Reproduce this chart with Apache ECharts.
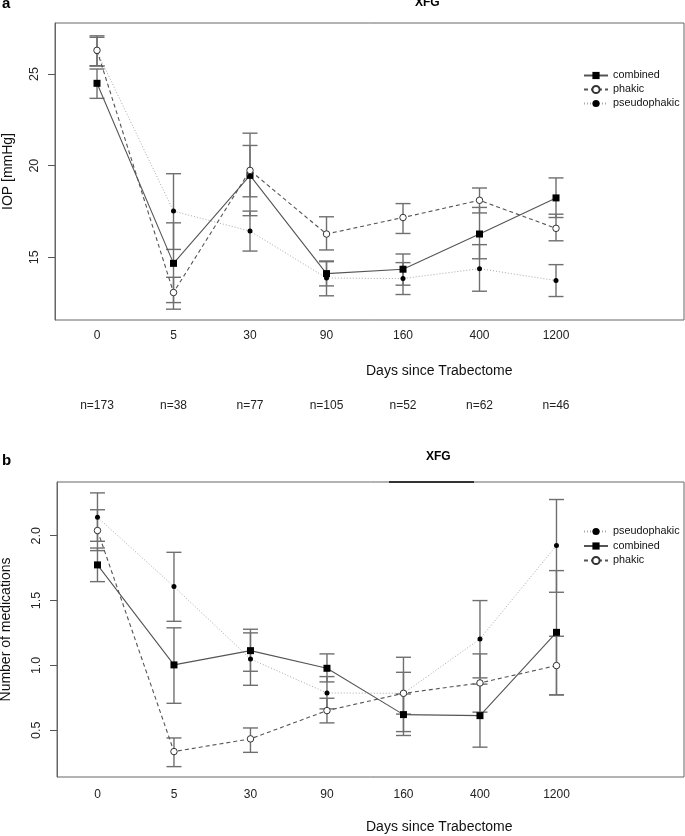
<!DOCTYPE html>
<html>
<head>
<meta charset="utf-8">
<script src="https://cdn.jsdelivr.net/npm/echarts@6/dist/echarts.min.js"></script>
<style>html,body{margin:0;padding:0;background:#fff}#c{width:685px;height:836px}</style>
</head>
<body>
<div id="c"></div>
<script>
// ---- data ----
const categories = ['0', '5', '30', '90', '160', '400', '1200'];
const nLabels = ['n=173', 'n=38', 'n=77', 'n=105', 'n=52', 'n=62', 'n=46'];
const iopTicks = [15, 20, 25];
const medTicks = [0.5, 1.0, 1.5, 2.0];

// Panel a: IOP [mmHg]
const iopCombined   = [24.49, 14.67, 19.47, 14.11, 14.35, 16.27, 18.24];
const iopCombinedLo = [23.67, 12.53, 17.27, 13.44, 13.48, 14.92, 17.17];
const iopCombinedHi = [25.27, 16.88, 21.77, 14.76, 15.18, 17.72, 19.33];
const iopPhakic     = [26.29, 13.08, 19.74, 16.27, 17.17, 18.11, 16.58];
const iopPhakicLo   = [25.43, 12.17, 18.30, 15.40, 16.30, 17.42, 15.90];
const iopPhakicHi   = [27.08, 13.91, 21.10, 17.21, 17.93, 18.78, 17.35];
const iopPseudo     = [26.22, 17.52, 16.43, 13.87, 13.84, 14.38, 13.73];
const iopPseudoLo   = [25.45, 15.43, 15.34, 12.90, 12.97, 13.15, 12.86];
const iopPseudoHi   = [27.00, 19.56, 17.52, 14.80, 14.71, 15.69, 14.60];

// Panel b: number of medications
const medCombined   = [1.775, 1.004, 1.114, 0.978, 0.621, 0.613, 1.255];
const medCombinedLo = [1.646, 0.708, 0.955, 0.873, 0.460, 0.370, 0.773];
const medCombinedHi = [1.905, 1.290, 1.279, 1.089, 0.780, 0.856, 1.731];
const medPhakic     = [2.040, 0.336, 0.434, 0.652, 0.785, 0.865, 0.999];
const medPhakicLo   = [1.885, 0.220, 0.330, 0.557, 0.625, 0.640, 0.773];
const medPhakicHi   = [2.200, 0.441, 0.518, 0.747, 0.947, 1.089, 1.225];
const medPseudo     = [2.142, 1.608, 1.050, 0.788, 0.785, 1.204, 1.925];
const medPseudoLo   = [1.957, 1.340, 0.847, 0.665, 0.490, 0.904, 1.564];
const medPseudoHi   = [2.330, 1.872, 1.251, 0.914, 1.063, 1.500, 2.279];

// ---- chart ----
const FONT = 'Liberation Sans, Arial, Helvetica, sans-serif';
const idx = categories.map((c, i) => i);
const pts = vals => vals.map((v, i) => [i, v]);
const bars = (lo, hi) => lo.map((l, i) => [i, l, hi[i]]);

function errRender(params, api) {
  const i = api.value(0);
  const top = api.coord([i, api.value(2)]);
  const bot = api.coord([i, api.value(1)]);
  const w = 7.5;
  const st = { stroke: '#6f6f6f', lineWidth: 1.4 };
  return {
    type: 'group',
    children: [
      { type: 'line', shape: { x1: top[0], y1: top[1], x2: bot[0], y2: bot[1] }, style: st },
      { type: 'line', shape: { x1: top[0] - w, y1: top[1], x2: top[0] + w, y2: top[1] }, style: st },
      { type: 'line', shape: { x1: bot[0] - w, y1: bot[1], x2: bot[0] + w, y2: bot[1] }, style: st }
    ]
  };
}

const styles = {
  combined: { symbol: 'rect', symbolSize: 7, itemStyle: { color: '#000' },
              lineStyle: { color: '#555', width: 1.1, type: 'solid' }, z: 4 },
  phakic: { symbol: 'circle', symbolSize: 6.5,
            itemStyle: { color: '#fff', borderColor: '#333', borderWidth: 1 },
            lineStyle: { color: '#555', width: 1.1, type: [4, 3] }, z: 5 },
  pseudophakic: { symbol: 'circle', symbolSize: 5, itemStyle: { color: '#000' },
                  lineStyle: { color: '#a8a8a8', width: 1, type: [1, 2] }, z: 3 }
};

function lineSeries(name, vals, g) {
  const s = styles[name];
  return Object.assign({
    type: 'line', name: name, xAxisIndex: g === 0 ? 0 : 2, yAxisIndex: g,
    data: pts(vals), showSymbol: true, animation: false, silent: true,
    emphasis: { disabled: true }
  }, s);
}
function errSeries(lo, hi, g) {
  return {
    type: 'custom', name: 'err', xAxisIndex: g === 0 ? 0 : 2, yAxisIndex: g,
    data: bars(lo, hi), renderItem: errRender, encode: { x: 0, y: [1, 2] },
    z: 1, animation: false, silent: true
  };
}

const xBase = (min, max, margin, gi) => ({
  type: 'value', gridIndex: gi, min: min, max: max,
  axisLine: { show: false, onZero: false }, axisTick: { show: false }, splitLine: { show: false },
  axisLabel: {
    customValues: idx, margin: margin, fontSize: 12, color: '#222', fontFamily: FONT,
    formatter: v => categories[Math.round(v)] || ''
  }
});

const option = {
  backgroundColor: '#fff',
  animation: false,
  textStyle: { fontFamily: FONT },
  title: [
    { text: 'a', left: 2, top: -4, padding: 0, textStyle: { fontSize: 15, fontWeight: 'bold', color: '#000', fontFamily: FONT } },
    { text: 'XFG', left: 415, top: -3, padding: 0, textStyle: { fontSize: 12, fontWeight: 'bold', color: '#000', fontFamily: FONT } },
    { text: 'Days since Trabectome', left: 366, top: 364, padding: 0, textStyle: { fontSize: 14, fontWeight: 'normal', color: '#111', fontFamily: FONT } },
    { text: 'b', left: 2, top: 453, padding: 0, textStyle: { fontSize: 15, fontWeight: 'bold', color: '#000', fontFamily: FONT } },
    { text: 'XFG', left: 426, top: 451, padding: 0, textStyle: { fontSize: 12, fontWeight: 'bold', color: '#000', fontFamily: FONT } },
    { text: 'Days since Trabectome', left: 366, top: 820, padding: 0, textStyle: { fontSize: 14, fontWeight: 'normal', color: '#111', fontFamily: FONT } }
  ],
  legend: [
    { orient: 'vertical', left: 583, top: 70, padding: 0, itemWidth: 24, itemHeight: 9, itemGap: 3,
      data: ['combined', 'phakic', 'pseudophakic'], selectedMode: false,
      textStyle: { fontSize: 10.8, color: '#111', fontFamily: FONT } },
    { orient: 'vertical', left: 583, top: 526, padding: 0, itemWidth: 24, itemHeight: 9, itemGap: 3.5,
      data: ['pseudophakic', 'combined', 'phakic'], selectedMode: false,
      textStyle: { fontSize: 10.8, color: '#111', fontFamily: FONT } }
  ],
  grid: [
    { left: 55, top: 23, width: 629, height: 297, show: true, borderColor: '#666', borderWidth: 1,
      backgroundColor: 'transparent', containLabel: false, outerBoundsMode: 'none' },
    { left: 57, top: 482, width: 627, height: 295, show: true, borderColor: '#666', borderWidth: 1,
      backgroundColor: 'transparent', containLabel: false, outerBoundsMode: 'none' }
  ],
  xAxis: [
    xBase(-0.549, 7.673, 10, 0),
    {
      type: 'value', gridIndex: 0, min: -0.549, max: 7.673, position: 'bottom', offset: 70,
      axisLine: { show: false, onZero: false }, axisTick: { show: false }, splitLine: { show: false },
      axisLabel: { customValues: idx, margin: 10, fontSize: 12, color: '#222', fontFamily: FONT,
                   formatter: v => nLabels[Math.round(v)] || '' }
    },
    xBase(-0.529, 7.667, 12, 1)
  ],
  yAxis: [
    {
      type: 'value', gridIndex: 0, min: 11.58, max: 27.78,
      name: 'IOP [mmHg]', nameLocation: 'middle', nameGap: 40, nameRotate: 90,
      nameTextStyle: { fontSize: 14, color: '#111', fontFamily: FONT },
      axisLine: { show: true, onZero: false, lineStyle: { color: '#666' } },
      axisTick: { show: true, length: 7, customValues: iopTicks, lineStyle: { color: '#555' } },
      splitLine: { show: false },
      axisLabel: { customValues: iopTicks, rotate: 90, margin: 14, fontSize: 12.5, color: '#222', fontFamily: FONT }
    },
    {
      type: 'value', gridIndex: 1, min: 0.14, max: 2.414,
      name: 'Number of medications', nameLocation: 'middle', nameGap: 44, nameRotate: 90,
      nameTextStyle: { fontSize: 14, color: '#111', fontFamily: FONT },
      axisLine: { show: true, onZero: false, lineStyle: { color: '#666' } },
      axisTick: { show: true, length: 7, customValues: medTicks, lineStyle: { color: '#555' } },
      splitLine: { show: false },
      axisLabel: { customValues: medTicks, rotate: 90, margin: 14, fontSize: 12.5, color: '#222', fontFamily: FONT,
                   formatter: v => Number(v).toFixed(1) }
    }
  ],
  graphic: [
    { type: 'line', shape: { x1: 389, y1: 482, x2: 474, y2: 482 }, style: { stroke: '#333', lineWidth: 2 }, silent: true }
  ],
  series: [
    errSeries(iopPseudoLo, iopPseudoHi, 0),
    errSeries(iopCombinedLo, iopCombinedHi, 0),
    errSeries(iopPhakicLo, iopPhakicHi, 0),
    lineSeries('pseudophakic', iopPseudo, 0),
    lineSeries('combined', iopCombined, 0),
    lineSeries('phakic', iopPhakic, 0),
    errSeries(medPseudoLo, medPseudoHi, 1),
    errSeries(medCombinedLo, medCombinedHi, 1),
    errSeries(medPhakicLo, medPhakicHi, 1),
    lineSeries('pseudophakic', medPseudo, 1),
    lineSeries('combined', medCombined, 1),
    lineSeries('phakic', medPhakic, 1)
  ]
};

const chart = echarts.init(document.getElementById('c'), null, { renderer: 'canvas' });
chart.setOption(option);
</script>
</body>
</html>
